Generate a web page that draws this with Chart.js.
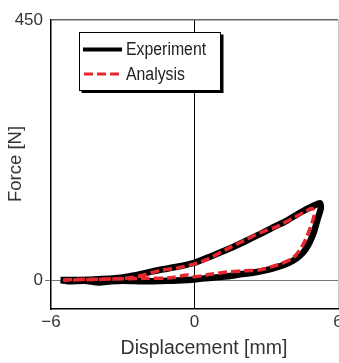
<!DOCTYPE html>
<html>
<head>
<meta charset="utf-8">
<script src="https://cdn.jsdelivr.net/npm/chart.js@4.4.1/dist/chart.umd.min.js"></script>
<style>
  body { margin: 0; background: #fff; }
  canvas { display: block; }
</style>
</head>
<body>
<canvas id="chart" width="339" height="363"></canvas>
<script>
// loop data (displacement mm, force N)
const expX = [-5.6, -5.2, -4.6, -4.0, -3.5, -3.0, -2.0, -1.0, -0.3, 0.39, 1.23, 1.92, 2.62, 3.18, 3.73, 4.1, 4.4, 4.62, 4.82, 5.0, 5.15, 5.28, 5.25, 5.0,
  4.43, 3.87, 3.32, 2.76, 2.06, 1.37, 0.67, 0, -0.72, -1.42, -1.98, -2.54, -3.09, -4.21, -5.2, -5.6];
const expY = [0, -2, -1, -4, -2, -1, -2, -1, 0, 3, 6, 10, 14, 19, 26, 33, 42, 52, 66, 84, 106, 124, 133, 129,
  117, 103, 92, 80, 66, 53, 41, 30, 23, 18, 13, 8, 4, 1, 0, 0];

const anaX = [-5.5, -5.0, -3.5, -2.1, -1.0, -0.3, 0, 0.67, 1.37, 2.06, 2.76, 3.3, 3.6, 4.1, 4.4, 4.62, 4.85, 5.0, 4.92,
  4.6, 4.15, 3.46, 2.76, 2.06, 1.37, 0.53, 0, -0.72, -1.4, -2.4, -3.0, -4.2, -5.5];
const anaY = [0, 1, 2, 3, 4, 9, 6, 10, 14, 16, 18, 24, 28, 38, 52, 68, 92, 112, 124,
  118, 108, 93, 82, 68, 54, 36, 28, 21, 17, 6, 3, 1, 0];

const xTicks = [-6, 0, 6];
const yTicks = [0, 450];
const labels = ["Experiment", "Analysis"];

const toPts = (xs, ys) => xs.map((x, i) => ({ x: x, y: ys[i] }));

const sans = "'Liberation Sans', Arial, sans-serif";

// legend box + axis titles
const extras = {
  id: "extras",
  afterDraw(chart) {
    const ctx = chart.ctx;
    ctx.save();
    // legend
    ctx.fillStyle = "#000";
    ctx.fillRect(81.5, 34.5, 142, 58.5);
    ctx.fillStyle = "#fff";
    ctx.fillRect(79.5, 32.5, 141, 58);
    ctx.strokeStyle = "#000";
    ctx.lineWidth = 1;
    ctx.strokeRect(79.5, 32.5, 141, 58);

    ctx.lineWidth = 4;
    ctx.beginPath();
    ctx.moveTo(83, 49.5);
    ctx.lineTo(122, 49.5);
    ctx.stroke();

    ctx.strokeStyle = "#e8262e";
    ctx.lineWidth = 3;
    ctx.setLineDash([9, 4]);
    ctx.beginPath();
    ctx.moveTo(84, 74);
    ctx.lineTo(121, 74);
    ctx.stroke();
    ctx.setLineDash([]);

    ctx.fillStyle = "#222";
    ctx.font = "18px " + sans;
    ctx.textAlign = "left";
    ctx.textBaseline = "middle";
    ctx.save();
    ctx.translate(126, 0);
    ctx.scale(0.88, 1);
    ctx.fillText(labels[0], 0, 50);
    ctx.fillText(labels[1], 0, 75);
    ctx.restore();

    // axis titles
    ctx.fillStyle = "#333";
    ctx.font = "19.5px " + sans;
    ctx.textAlign = "center";
    ctx.fillText("Displacement [mm]", 204, 349);

    ctx.translate(16, 164);
    ctx.rotate(-Math.PI / 2);
    ctx.font = "18.5px " + sans;
    ctx.fillText("Force [N]", 0, 0);
    ctx.restore();
  }
};

new Chart(document.getElementById("chart"), {
  type: "scatter",
  data: {
    datasets: [
      {
        label: labels[0],
        data: toPts(expX, expY),
        showLine: true,
        borderColor: "#000",
        borderWidth: 6.5,
        pointRadius: 0,
        tension: 0.2,
        order: 2
      },
      {
        label: labels[1],
        data: toPts(anaX, anaY),
        showLine: true,
        borderColor: "#e8262e",
        borderWidth: 3.5,
        borderDash: [9, 4],
        pointRadius: 0,
        tension: 0.3,
        order: 1
      }
    ]
  },
  options: {
    responsive: false,
    animation: false,
    layout: { padding: { top: 20, right: 1, left: 0, bottom: 0 } },
    plugins: {
      legend: { display: false },
      tooltip: { enabled: false }
    },
    scales: {
      x: {
        type: "linear",
        min: -6,
        max: 6,
        afterBuildTicks: (s) => { s.ticks = xTicks.map((v) => ({ value: v })); },
        afterFit: (s) => { s.height = 54; s.paddingLeft = 0; s.paddingRight = 0; },
        ticks: {
          padding: 3,
          color: "#333",
          font: { family: sans, size: 17 },
          maxRotation: 0,
          callback: (v) => (v < 0 ? "\u2212" + Math.abs(v) : String(v))
        },
        grid: {
          drawTicks: false,
          color: (c) => (c.tick && c.tick.value === 0 ? "#000" : c.tick && c.tick.value === 6 ? "#c8c8c8" : "rgba(0,0,0,0)"),
          lineWidth: 1
        },
        border: { color: "#000", width: 1.5 }
      },
      y: {
        type: "linear",
        min: -50,
        max: 450,
        afterBuildTicks: (s) => { s.ticks = yTicks.map((v) => ({ value: v })); },
        afterFit: (s) => { s.width = 51; s.paddingTop = 0; s.paddingBottom = 0; },
        ticks: {
          padding: 2,
          color: "#333",
          font: { family: sans, size: 17 },
          callback: (v) => String(v)
        },
        grid: {
          tickLength: 6,
          color: (c) => (c.tick && c.tick.value === 0 ? "#777" : "#666"),
          tickColor: (c) => (c.tick && c.tick.value === 0 ? "#777" : "rgba(0,0,0,0)"),
          lineWidth: (c) => (c.tick && c.tick.value === 450 ? 1.5 : 1)
        },
        border: { color: "#000", width: 1.5 }
      }
    }
  },
  plugins: [extras]
});
</script>
</body>
</html>
